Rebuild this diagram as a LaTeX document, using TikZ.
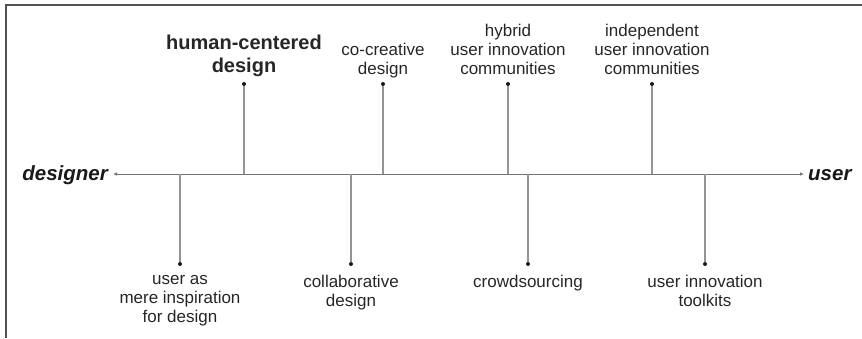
\documentclass[tikz,border=0pt]{standalone}
\usepackage{fontspec}
\setmainfont{Liberation Sans}
\usetikzlibrary{arrows.meta}
\begin{document}
\begin{tikzpicture}[x=1pt,y=-1pt,
  frame/.style={line width=2pt, draw=black!68},
  axisline/.style={draw=black!55, line width=0.9pt, {Latex[length=4pt,width=3.5pt]}-{Latex[length=4pt,width=3.5pt]}},
  stem/.style={draw=black!42, line width=1.1pt},
  dot/.style={circle, fill=black!90, inner sep=0pt, minimum size=4pt},
  lbl/.style={font=\fontsize{17}{19}\selectfont, text=black!85, align=center, inner sep=0pt},
  lblbold/.style={font=\bfseries\fontsize{20}{23}\selectfont, text=black!85, align=center, inner sep=0pt},
  pole/.style={font=\bfseries\itshape\fontsize{20.5}{24}\selectfont, text=black!90, inner sep=0pt}]
\useasboundingbox (0,0) rectangle (862,338);
% open frame: left and top edges only
\draw[frame] (5.5,338) -- (5.5,4.5) -- (862,4.5);

% the designer-user axis
\node[pole, anchor=base east] (designer) at (108,180) {designer};
\node[pole, anchor=base west] (user) at (808,180) {user};
\coordinate (axL) at (113,174);
\coordinate (axR) at (804,174);
\draw[axisline] (axL) -- (axR);

% approaches above the axis
\coordinate (b1) at (244,174);
\coordinate (b2) at (383,174);
\coordinate (b3) at (508,174);
\coordinate (b4) at (652,174);
\node[dot] (u1) at (244,84) {};
\node[dot] (u2) at (383,84) {};
\node[dot] (u3) at (508,84) {};
\node[dot] (u4) at (652,84) {};
\foreach \i in {1,...,4} \draw[stem] (b\i) -- (u\i);

\node[lblbold, anchor=south] (hcd) at (244,77) {human-centered\\design};
\node[lbl, anchor=south] (ccd) at (383,78) {co-creative\\design};
\node[lbl, anchor=south] (huic) at (508,75) {hybrid\\user innovation\\communities};
\node[lbl, anchor=south] (iuic) at (652,75) {independent\\user innovation\\communities};

% approaches below the axis
\coordinate (c1) at (180,174);
\coordinate (c2) at (351,174);
\coordinate (c3) at (528,174);
\coordinate (c4) at (705,174);
\node[dot] (l1) at (180,264) {};
\node[dot] (l2) at (351,264) {};
\node[dot] (l3) at (528,264) {};
\node[dot] (l4) at (705,264) {};
\foreach \i in {1,...,4} \draw[stem] (c\i) -- (l\i);

\node[lbl, anchor=north] (umi) at (180,275) {user as\\mere inspiration\\for design};
\node[lbl, anchor=north] (cd) at (351,275) {collaborative\\design};
\node[lbl, anchor=north] (cs) at (528,275) {crowdsourcing};
\node[lbl, anchor=north] (uit) at (705,275) {user innovation\\toolkits};
\end{tikzpicture}
\end{document}
